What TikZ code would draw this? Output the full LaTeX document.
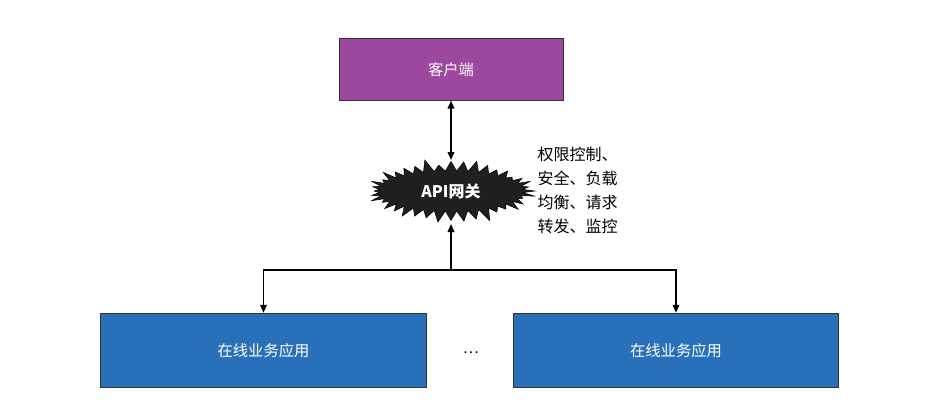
\documentclass[tikz,border=0pt]{standalone}
\usepackage{fontspec}
\setmainfont{Noto Sans CJK SC}
\usetikzlibrary{shapes.symbols,arrows.meta}
\definecolor{clientpurple}{RGB}{155,72,158}
\definecolor{appblue}{RGB}{40,112,186}
\tikzset{
  box/.style={draw=black!80,line width=0.6pt,text=white,font=\fontsize{11.5}{13}\selectfont,inner sep=0pt},
  link/.style={line width=1pt,-{Triangle[length=6pt,width=5pt]}}
}
\begin{document}
\begin{tikzpicture}[x=0.75pt,y=0.75pt,yscale=-1,xscale=1]
\useasboundingbox (0,0) rectangle (940,419);

% client
\node[box,fill=clientpurple,minimum width=168pt,minimum height=46pt] (client) at (451,69.5) {客户端};
% gateway
\node[starburst,fill=black!88,draw=black,text=white,font=\bfseries\fontsize{12}{13}\selectfont,
  starburst points=40,starburst point height=10pt,minimum width=128pt,minimum height=50pt,inner sep=0pt] (gw) at (451,191) {API网关};
\node[anchor=north west,align=left,font=\fontsize{12}{18}\selectfont] (duty) at (533,142) {权限控制、\\安全、负载\\均衡、请求\\转发、监控};
% applications
\node[box,fill=appblue,minimum width=244pt,minimum height=56pt] (app1) at (263.5,350.5) {在线业务应用};
\node[box,fill=appblue,minimum width=244pt,minimum height=56pt] (app2) at (676,350.5) {在线业务应用};
\node[font=\fontsize{11}{13}\selectfont] (dots) at (471,353) {\dots};

\coordinate (split) at (451,270);
\coordinate (gwtop) at (451,160);
\coordinate (gwbot) at (451,224);
\draw[link,{Triangle[length=6pt,width=5pt]}-{Triangle[length=6pt,width=5pt]}] (client.south) -- (gwtop);
\draw[link] (split) -- (gwbot);
\draw[link] (split) -| (app1.north);
\draw[link] (split) -| (app2.north);
\end{tikzpicture}
\end{document}
